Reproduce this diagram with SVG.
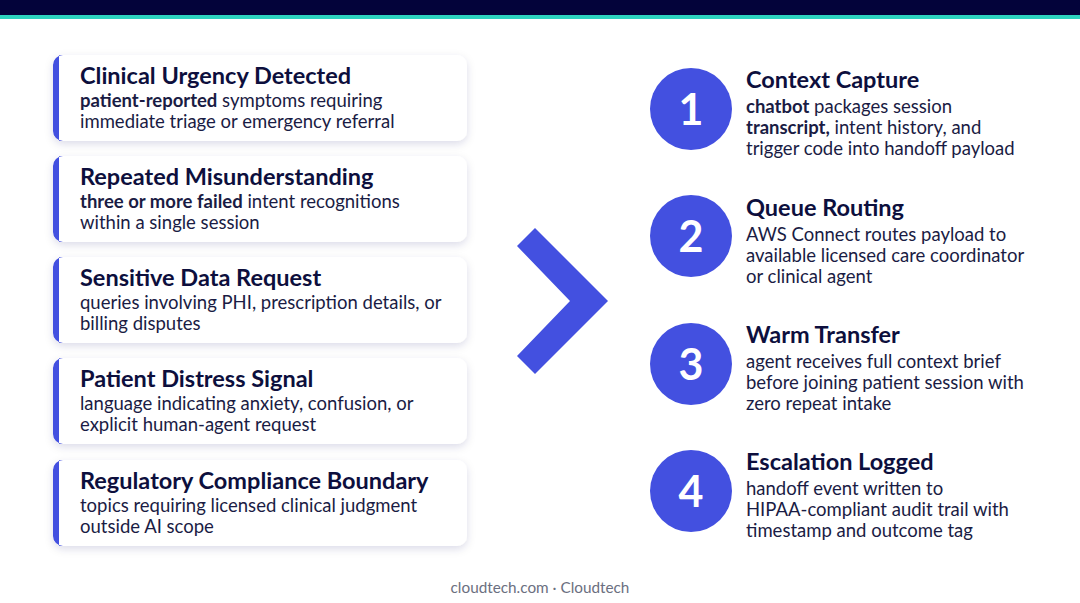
<svg xmlns="http://www.w3.org/2000/svg" width="1080" height="603" viewBox="0 0 1080 603">
<defs>
<filter id="sh" x="-10%" y="-20%" width="120%" height="150%">
<feDropShadow dx="0" dy="3" stdDeviation="4" flood-color="#1a1f5a" flood-opacity="0.14"/>
</filter>
<style>
.t{font-family:Lato,"Noto Sans",sans-serif;font-weight:700;font-size:23.5px;fill:#0d0f3d}
.b{font-family:Lato,"Noto Sans",sans-serif;font-weight:400;font-size:18.5px;fill:#1a1c44}
.b tspan.k{font-weight:700}
.n{font-family:Lato,"Noto Sans",sans-serif;font-weight:700;font-size:43px;fill:#ffffff;text-anchor:middle}
.card{fill:#ffffff}
.acc{fill:#4350e0}
.circ{fill:#4350e0}
</style>
</defs>
<rect width="1080" height="603" fill="#ffffff"/>
<rect x="0" y="0" width="1080" height="15" fill="#03033a"/>
<rect x="0" y="15" width="1080" height="4" fill="#2dd4bf"/>

<g id="card1">
<rect class="card" x="53" y="55" width="414" height="86" rx="10" filter="url(#sh)"/>
<path class="acc" d="M63,55 H59 V141 H63 A10,10 0 0 1 53,131 V65 A10,10 0 0 1 63,55 Z"/>
<text class="t" x="80" y="84">Clinical Urgency Detected</text>
<text class="b" x="80" y="107"><tspan class="k">patient-reported</tspan> symptoms requiring</text>
<text class="b" x="80" y="128">immediate triage or emergency referral</text>
</g>
<g id="card2">
<rect class="card" x="53" y="156" width="414" height="86" rx="10" filter="url(#sh)"/>
<path class="acc" d="M63,156 H59 V242 H63 A10,10 0 0 1 53,232 V166 A10,10 0 0 1 63,156 Z"/>
<text class="t" x="80" y="185">Repeated Misunderstanding</text>
<text class="b" x="80" y="208"><tspan class="k">three or more failed</tspan> intent recognitions</text>
<text class="b" x="80" y="229">within a single session</text>
</g>
<g id="card3">
<rect class="card" x="53" y="257" width="414" height="86" rx="10" filter="url(#sh)"/>
<path class="acc" d="M63,257 H59 V343 H63 A10,10 0 0 1 53,333 V267 A10,10 0 0 1 63,257 Z"/>
<text class="t" x="80" y="286">Sensitive Data Request</text>
<text class="b" x="80" y="309">queries involving PHI, prescription details, or</text>
<text class="b" x="80" y="330">billing disputes</text>
</g>
<g id="card4">
<rect class="card" x="53" y="358" width="414" height="86" rx="10" filter="url(#sh)"/>
<path class="acc" d="M63,358 H59 V444 H63 A10,10 0 0 1 53,434 V368 A10,10 0 0 1 63,358 Z"/>
<text class="t" x="80" y="387">Patient Distress Signal</text>
<text class="b" x="80" y="410">language indicating anxiety, confusion, or</text>
<text class="b" x="80" y="431">explicit human-agent request</text>
</g>
<g id="card5">
<rect class="card" x="53" y="460" width="414" height="86" rx="10" filter="url(#sh)"/>
<path class="acc" d="M63,460 H59 V546 H63 A10,10 0 0 1 53,536 V470 A10,10 0 0 1 63,460 Z"/>
<text class="t" x="80" y="489">Regulatory Compliance Boundary</text>
<text class="b" x="80" y="512">topics requiring licensed clinical judgment</text>
<text class="b" x="80" y="533">outside AI scope</text>
</g>

<g id="connectors">
<polygon points="535,228 608,301 535,374 517,356 570,301 517,246" fill="#4350e0"/>
</g>

<g id="step1">
<circle class="circ" cx="691" cy="109" r="41"/>
<text class="n" x="691" y="125">1</text>
<text class="t" x="746" y="88">Context Capture</text>
<text class="b" x="746" y="113"><tspan class="k">chatbot</tspan> packages session</text>
<text class="b" x="746" y="134"><tspan class="k">transcript,</tspan> intent history, and</text>
<text class="b" x="746" y="155">trigger code into handoff payload</text>
</g>
<g id="step2">
<circle class="circ" cx="691" cy="236" r="41"/>
<text class="n" x="691" y="252">2</text>
<text class="t" x="746" y="216">Queue Routing</text>
<text class="b" x="746" y="241">AWS Connect routes payload to</text>
<text class="b" x="746" y="262">available licensed care coordinator</text>
<text class="b" x="746" y="283">or clinical agent</text>
</g>
<g id="step3">
<circle class="circ" cx="691" cy="364" r="41"/>
<text class="n" x="691" y="380">3</text>
<text class="t" x="746" y="343">Warm Transfer</text>
<text class="b" x="746" y="368">agent receives full context brief</text>
<text class="b" x="746" y="389">before joining patient session with</text>
<text class="b" x="746" y="410">zero repeat intake</text>
</g>
<g id="step4">
<circle class="circ" cx="691" cy="491" r="41"/>
<text class="n" x="691" y="507">4</text>
<text class="t" x="746" y="470">Escalation Logged</text>
<text class="b" x="746" y="495">handoff event written to</text>
<text class="b" x="746" y="516">HIPAA-compliant audit trail with</text>
<text class="b" x="746" y="537">timestamp and outcome tag</text>
</g>

<text x="540" y="593" text-anchor="middle" style="font-family:Lato,'Noto Sans',sans-serif;font-size:15.3px;fill:#6b6f80">cloudtech.com · Cloudtech</text>
</svg>
